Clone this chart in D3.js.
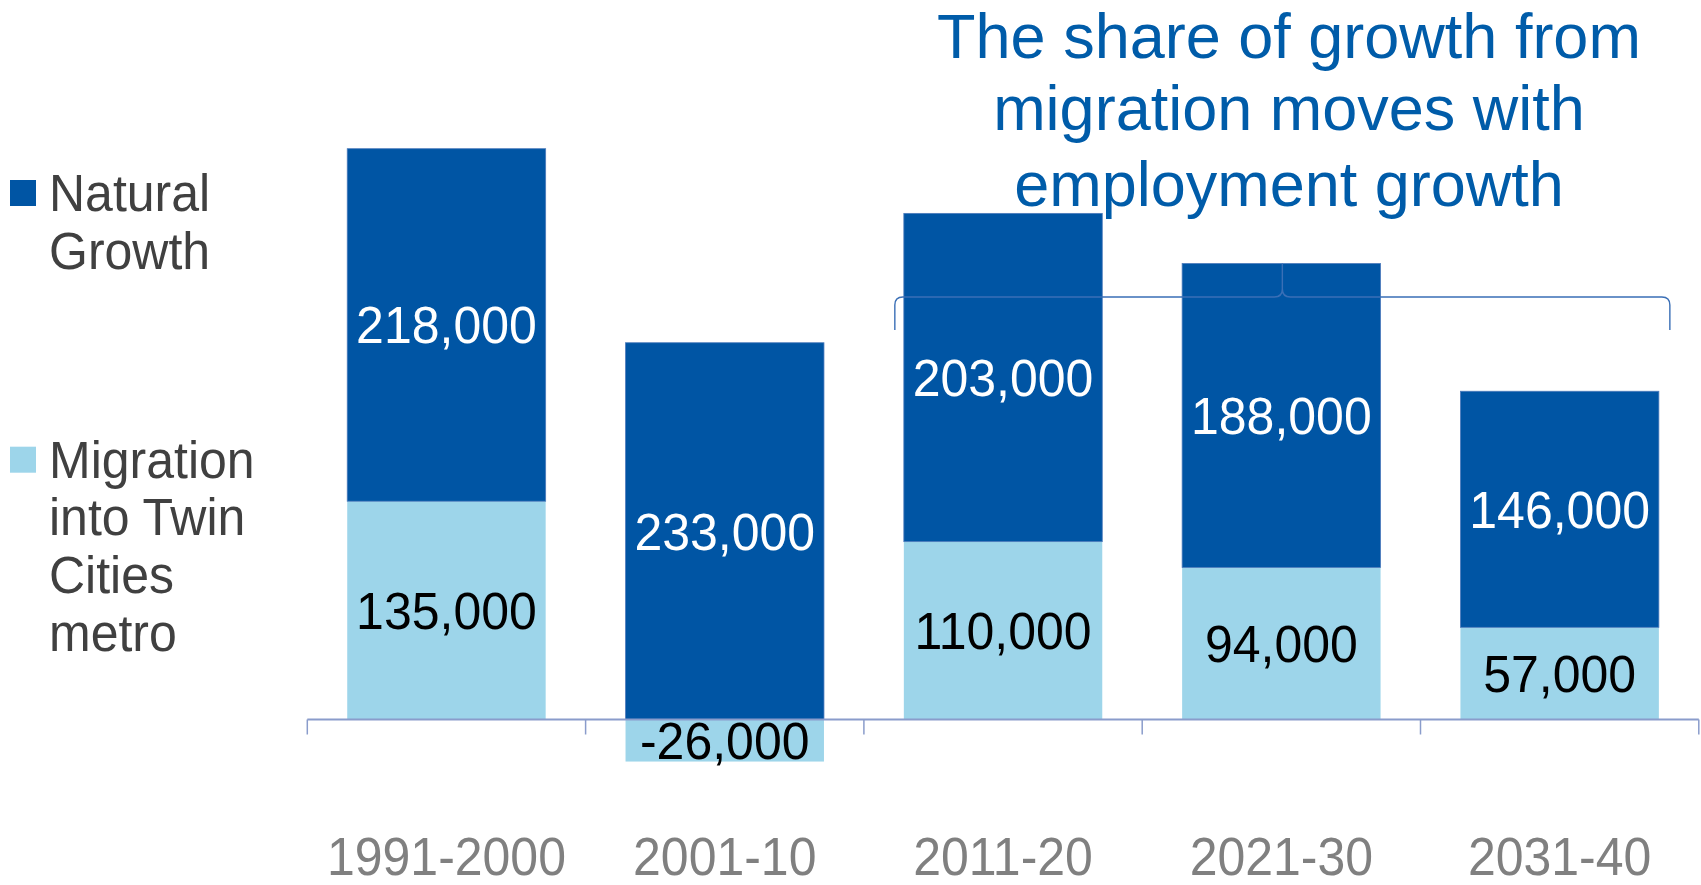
<!DOCTYPE html>
<html>
<head>
<meta charset="utf-8">
<script src="https://cdn.jsdelivr.net/npm/d3@7"></script>
<style>
  html, body { margin: 0; padding: 0; background: #ffffff; }
  svg { display: block; font-family: "Liberation Sans", Arial, sans-serif; }
</style>
</head>
<body>
<svg id="chart" width="1701" height="885"></svg>
<script>
// ---- data ----
const categories = ["1991-2000", "2001-10", "2011-20", "2021-30", "2031-40"];
const migration = [135000, -26000, 110000, 94000, 57000];
const natural = [218000, 233000, 203000, 188000, 146000];
const seriesNames = ["Natural Growth", "Migration into Twin Cities metro"];
const legendLines = [["Natural", "Growth"], ["Migration", "into Twin", "Cities", "metro"]];
const titleLines = ["The share of growth from", "migration moves with", "employment growth"];
const bracketCategories = ["2011-20", "2031-40"];

// ---- styles ----
const darkBlue = "#0055A4";
const lightBlue = "#9DD5EA";
const axisColor = "#8A9CCB";
const titleColor = "#005CA9";

const svg = d3.select("#chart");

const x = d3.scaleBand()
  .domain(categories)
  .range([307.3, 1698.8])
  .paddingInner(0.287)
  .paddingOuter(0.1435);

const y = d3.scaleLinear()
  .domain([0, 353000])
  .range([719.5, 148.7]);

const fmt = v => d3.format(",")(v).replace("\u2212", "-");

// stacked segments: migration from 0, natural on top of positive migration (or from 0 if negative)
const segs = [];
categories.forEach((c, i) => {
  const m = migration[i];
  const n = natural[i];
  segs.push({ cat: c, y0: Math.min(0, m), y1: Math.max(0, m), v: m, series: 1 });
  const base = Math.max(0, m);
  segs.push({ cat: c, y0: base, y1: base + n, v: n, series: 0 });
});

const g = svg.append("g");

g.selectAll("rect.seg")
  .data(segs)
  .join("rect")
  .attr("class", "seg")
  .attr("x", d => x(d.cat))
  .attr("width", x.bandwidth())
  .attr("y", d => y(d.y1))
  .attr("height", d => y(d.y0) - y(d.y1))
  .attr("fill", d => d.series === 0 ? darkBlue : lightBlue)
  .attr("stroke", d => d.series === 0 ? "#4C7BBC" : "none")
  .attr("stroke-width", 0.8);

// axis baseline and ticks
const axis = d3.axisBottom(x).tickSize(0).tickFormat("");
const axG = svg.append("g").attr("transform", `translate(0,${y(0)})`).call(axis);
axG.select(".domain").attr("stroke", axisColor).attr("stroke-width", 2)
  .attr("d", `M${x.range()[0]},0H${x.range()[1]}`);
const step = x.step();
const tickXs = d3.range(categories.length + 1).map(i => x.range()[0] + i * step);
axG.selectAll("line.sep")
  .data(tickXs)
  .join("line")
  .attr("class", "sep")
  .attr("x1", d => d).attr("x2", d => d)
  .attr("y1", 0).attr("y2", 15)
  .attr("stroke", axisColor).attr("stroke-width", 1.5);

// category labels
svg.selectAll("text.cat")
  .data(categories)
  .join("text")
  .attr("class", "cat")
  .attr("transform", d => `translate(${x(d) + x.bandwidth() / 2},875) scale(1,1.08)`)
  .attr("text-anchor", "middle")
  .attr("font-size", 50)
  .attr("fill", "#808080")
  .text(d => d);

// data labels
svg.selectAll("text.val")
  .data(segs)
  .join("text")
  .attr("class", "val")
  .attr("transform", d => `translate(${x(d.cat) + x.bandwidth() / 2},${(y(d.y0) + y(d.y1)) / 2 + 18.5}) scale(1,1.04)`)
  .attr("text-anchor", "middle")
  .attr("font-size", 50)
  .attr("fill", d => d.series === 0 ? "#ffffff" : "#000000")
  .text(d => fmt(d.v));

// bracket (curly brace) over 2011-20 .. 2031-40
const bx0 = x(bracketCategories[0]) - 9;
const bx1 = x(bracketCategories[1]) + x.bandwidth() + 11;
const bmid = (bx0 + bx1) / 2;
const by = 297, byEnd = 330, byPeak = y(natural[3] + migration[3]);
const r = 8;
const bracePath = [
  `M${bx0},${byEnd}`,
  `L${bx0},${by + r}`,
  `Q${bx0},${by} ${bx0 + r},${by}`,
  `L${bmid - r},${by}`,
  `Q${bmid},${by} ${bmid},${by - r}`,
  `L${bmid},${byPeak}`,
  `M${bmid},${by - r}`,
  `Q${bmid},${by} ${bmid + r},${by}`,
  `L${bx1 - r},${by}`,
  `Q${bx1},${by} ${bx1},${by + r}`,
  `L${bx1},${byEnd}`
].join(" ");
svg.append("path")
  .attr("d", bracePath)
  .attr("fill", "none")
  .attr("stroke", "#3A6FB6")
  .attr("stroke-width", 1.4);

// title
const titleBaselines = [57.5, 130, 205.5];
const title = svg.append("text")
  .attr("text-anchor", "middle")
  .attr("font-size", 63)
  .attr("fill", titleColor);
titleLines.forEach((t, i) => {
  title.append("tspan").attr("x", 1289).attr("y", titleBaselines[i]).text(t);
});

// legend
const legendColors = [darkBlue, lightBlue];
const legendTops = [180, 446.7];
legendLines.forEach((lines, i) => {
  const lg = svg.append("g").attr("class", "legend").attr("aria-label", seriesNames[i]);
  lg.append("rect")
    .attr("x", 10).attr("y", legendTops[i])
    .attr("width", 26).attr("height", 26)
    .attr("fill", legendColors[i]);
  lines.forEach((t, j) => {
    lg.append("text")
      .attr("transform", `translate(49,${legendTops[i] + 31 + j * 57.7}) scale(1,1.04)`)
      .attr("font-size", 50)
      .attr("fill", "#404040")
      .text(t);
  });
});
</script>
</body>
</html>
